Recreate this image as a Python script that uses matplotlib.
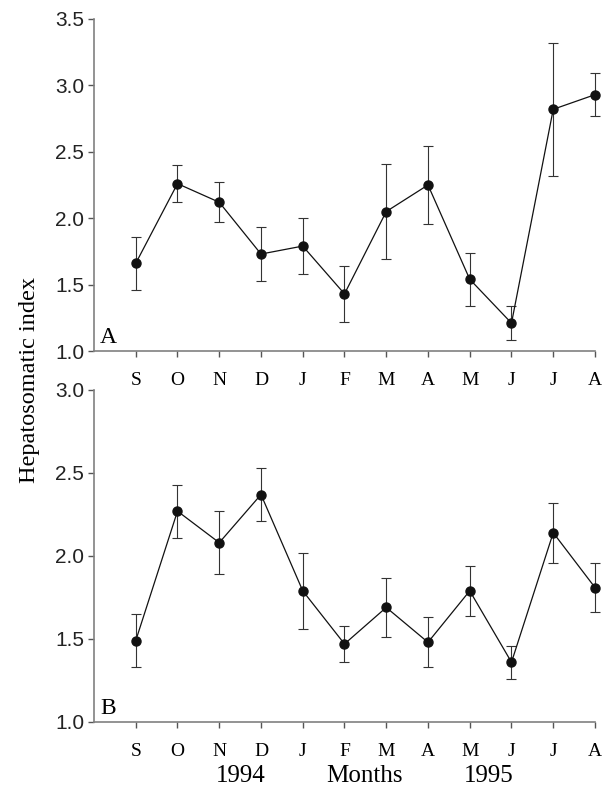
import matplotlib
matplotlib.use("Agg")
import matplotlib.pyplot as plt
import numpy as np

months = ['S', 'O', 'N', 'D', 'J', 'F', 'M', 'A', 'M', 'J', 'J', 'A']

hsi_a = [1.66, 2.26, 2.12, 1.73, 1.79, 1.43, 2.05, 2.25, 1.54, 1.21, 2.82, 2.93]
err_a = [0.20, 0.14, 0.15, 0.20, 0.21, 0.21, 0.36, 0.29, 0.20, 0.13, 0.50, 0.16]

hsi_b = [1.49, 2.27, 2.08, 2.37, 1.79, 1.47, 1.69, 1.48, 1.79, 1.36, 2.14, 1.81]
err_b = [0.16, 0.16, 0.19, 0.16, 0.23, 0.11, 0.18, 0.15, 0.15, 0.10, 0.18, 0.15]

serif = 'Liberation Serif'
sans = 'Liberation Sans'

fig = plt.figure(figsize=(6.08, 7.87), dpi=100)
ax_a = fig.add_axes([0.1546, 0.554, 0.824, 0.4219])
ax_b = fig.add_axes([0.1546, 0.0826, 0.824, 0.4219])

x = np.arange(1, len(months) + 1)

def draw(ax, vals, errs, ylim, letter):
    lines = ax.errorbar(x, vals, yerr=errs, color='#111111', ecolor='#333333',
                        elinewidth=0.8, capsize=3.5, capthick=0.8, linewidth=0.9,
                        marker='o', markersize=6.5, markerfacecolor='#111111')
    # keep the last point and its error bar from being cut at the axes edge
    for art in lines.get_children():
        art.set_clip_on(False)
    ax.set_xlim(0, 12)
    ax.set_ylim(*ylim)
    ticks = np.arange(ylim[0], ylim[1] + 0.01, 0.5)
    ax.set_yticks(ticks)
    ax.set_yticklabels(['%.1f' % v for v in ticks], fontsize=15, family=sans,
                       color='#222222')
    ax.set_xticks(x)
    ax.set_xticklabels(months, fontsize=14, family=serif)
    ax.spines['top'].set_visible(False)
    ax.spines['right'].set_visible(False)
    for s in ['left', 'bottom']:
        ax.spines[s].set_color('#808080')
        ax.spines[s].set_linewidth(1.2)
    ax.tick_params(axis='both', direction='out', length=4, width=1, color='#555555')
    ax.tick_params(axis='y', pad=3)
    ax.tick_params(axis='x', pad=11)
    ax.text(0.012, 0.01, letter, transform=ax.transAxes, fontsize=17,
            family=serif, ha='left', va='bottom')

draw(ax_a, hsi_a, err_a, (1.0, 3.5), 'A')
draw(ax_b, hsi_b, err_b, (1.0, 3.0), 'B')

fig.text(0.048, 0.517, 'Hepatosomatic index', rotation=90, fontsize=17.5,
         family=serif, ha='center', va='center')
fig.text(0.396, 0.006, '1994', fontsize=18, family=serif, ha='center', va='baseline')
fig.text(0.599, 0.006, 'Months', fontsize=18, family=serif, ha='center', va='baseline')
fig.text(0.804, 0.006, '1995', fontsize=18, family=serif, ha='center', va='baseline')

fig.savefig('out.png', dpi=100)
